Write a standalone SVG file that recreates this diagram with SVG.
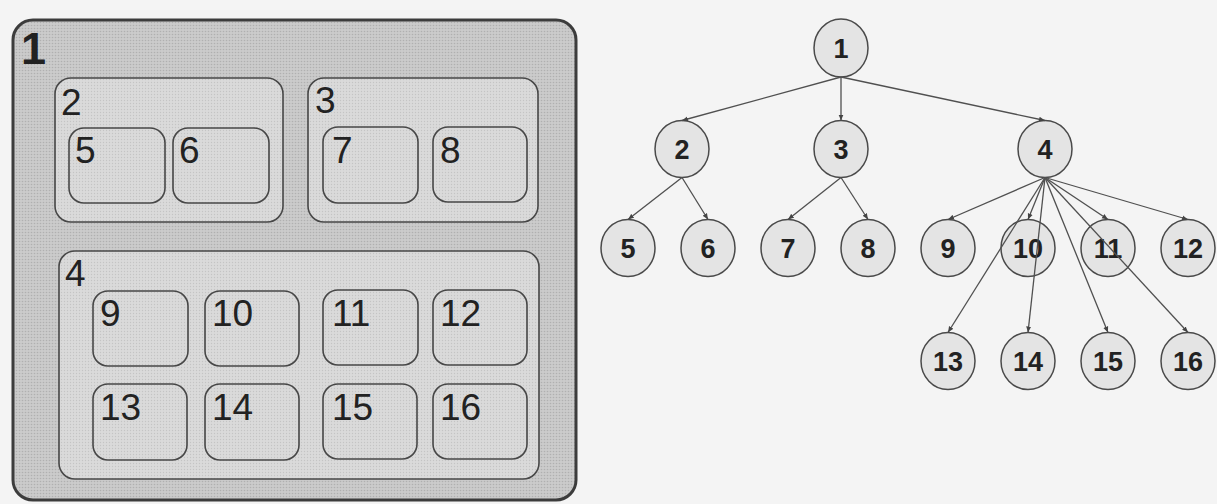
<svg xmlns="http://www.w3.org/2000/svg" width="1217" height="504" viewBox="0 0 1217 504">
<defs>
<pattern id="dots" width="3" height="3" patternUnits="userSpaceOnUse">
<rect width="3" height="3" fill="#cbcbcb"/>
<circle cx="1.5" cy="1.5" r="0.8" fill="#b0b0b0"/>
</pattern>
<pattern id="dotsLight" width="3" height="3" patternUnits="userSpaceOnUse">
<rect width="3" height="3" fill="#dadada"/>
<circle cx="1.5" cy="1.5" r="0.7" fill="#c4c4c4"/>
</pattern>
<marker id="arr" viewBox="0 0 6 6" refX="6" refY="3" markerWidth="6" markerHeight="6" markerUnits="userSpaceOnUse" orient="auto">
<path d="M0,0.5 L6,3 L0,5.5 z" fill="#444"/>
</marker>
</defs>
<style>
.outer{fill:url(#dots);stroke:#3c3c3c;stroke-width:3}
.box{fill:url(#dotsLight);stroke:#474747;stroke-width:1.6}
.sub{fill:none;stroke:#474747;stroke-width:1.6}
.lt{font-family:"Liberation Sans",Arial,sans-serif;font-size:37px;fill:#222}
.lbig{font-family:"Liberation Sans",Arial,sans-serif;font-size:45px;font-weight:bold;fill:#222}
.tn{fill:#e4e4e4;stroke:#4a4a4a;stroke-width:1.5}
.tt{font-family:"Liberation Sans",Arial,sans-serif;font-size:27px;font-weight:bold;fill:#222;text-anchor:middle}
.edge{stroke:#505050;stroke-width:1.3;fill:none;marker-end:url(#arr)}
</style>
<rect width="1217" height="504" fill="#f4f4f4"/>

<!-- Left nested-box panel -->
<g id="box1">
<rect class="outer" x="13" y="20" width="563" height="480" rx="20"/>
<text class="lbig" x="21" y="64">1</text>
</g>
<g id="box2">
<rect class="box" x="55" y="78" width="228" height="144" rx="16"/>
<text class="lt" x="61" y="115">2</text>
</g>
<g id="box5">
<rect class="sub" x="69" y="128" width="96" height="75" rx="15"/>
<text class="lt" x="75" y="163">5</text>
</g>
<g id="box6">
<rect class="sub" x="173" y="128" width="96" height="75" rx="15"/>
<text class="lt" x="179" y="163">6</text>
</g>
<g id="box3">
<rect class="box" x="308" y="78" width="230" height="144" rx="16"/>
<text class="lt" x="315" y="113">3</text>
</g>
<g id="box7">
<rect class="sub" x="323" y="127" width="95" height="76" rx="15"/>
<text class="lt" x="332" y="163">7</text>
</g>
<g id="box8">
<rect class="sub" x="433" y="127" width="94" height="75" rx="15"/>
<text class="lt" x="440" y="163">8</text>
</g>
<g id="box4">
<rect class="box" x="59" y="251" width="480" height="228" rx="16"/>
<text class="lt" x="65" y="286">4</text>
</g>
<g id="box9">
<rect class="sub" x="93" y="291" width="95" height="75" rx="15"/>
<text class="lt" x="100" y="326">9</text>
</g>
<g id="box10">
<rect class="sub" x="205" y="291" width="94" height="75" rx="15"/>
<text class="lt" x="212" y="326">10</text>
</g>
<g id="box11">
<rect class="sub" x="323" y="290" width="95" height="75" rx="15"/>
<text class="lt" x="332" y="326">11</text>
</g>
<g id="box12">
<rect class="sub" x="433" y="290" width="94" height="75" rx="15"/>
<text class="lt" x="440" y="326">12</text>
</g>
<g id="box13">
<rect class="sub" x="93" y="384" width="94" height="76" rx="15"/>
<text class="lt" x="100" y="420">13</text>
</g>
<g id="box14">
<rect class="sub" x="205" y="384" width="94" height="76" rx="15"/>
<text class="lt" x="212" y="420">14</text>
</g>
<g id="box15">
<rect class="sub" x="323" y="384" width="94" height="75" rx="15"/>
<text class="lt" x="332" y="420">15</text>
</g>
<g id="box16">
<rect class="sub" x="433" y="384" width="94" height="75" rx="15"/>
<text class="lt" x="440" y="420">16</text>
</g>

<!-- Right tree -->
<g id="n1"><ellipse class="tn" cx="841" cy="48" rx="27" ry="29"/><text class="tt" x="841" y="58">1</text></g>
<g id="n2"><ellipse class="tn" cx="682" cy="149" rx="27" ry="28.5"/><text class="tt" x="682" y="159">2</text></g>
<g id="n3"><ellipse class="tn" cx="841" cy="149" rx="27" ry="28.5"/><text class="tt" x="841" y="159">3</text></g>
<g id="n4"><ellipse class="tn" cx="1045" cy="149" rx="27" ry="28.5"/><text class="tt" x="1045" y="159">4</text></g>
<g id="n5"><ellipse class="tn" cx="628" cy="248" rx="27" ry="28.5"/><text class="tt" x="628" y="258">5</text></g>
<g id="n6"><ellipse class="tn" cx="708" cy="248" rx="27" ry="28.5"/><text class="tt" x="708" y="258">6</text></g>
<g id="n7"><ellipse class="tn" cx="788" cy="248" rx="27" ry="28.5"/><text class="tt" x="788" y="258">7</text></g>
<g id="n8"><ellipse class="tn" cx="868" cy="248" rx="27" ry="28.5"/><text class="tt" x="868" y="258">8</text></g>
<g id="n9"><ellipse class="tn" cx="948" cy="248" rx="27" ry="28.5"/><text class="tt" x="948" y="258">9</text></g>
<g id="n10"><ellipse class="tn" cx="1028" cy="248" rx="27" ry="28.5"/><text class="tt" x="1028" y="258">10</text></g>
<g id="n11"><ellipse class="tn" cx="1108" cy="248" rx="27" ry="28.5"/><text class="tt" x="1108" y="258">11</text></g>
<g id="n12"><ellipse class="tn" cx="1188" cy="248" rx="27" ry="28.5"/><text class="tt" x="1188" y="258">12</text></g>
<g id="n13"><ellipse class="tn" cx="948" cy="361" rx="27" ry="28.5"/><text class="tt" x="948" y="371">13</text></g>
<g id="n14"><ellipse class="tn" cx="1028" cy="361" rx="27" ry="28.5"/><text class="tt" x="1028" y="371">14</text></g>
<g id="n15"><ellipse class="tn" cx="1108" cy="361" rx="27" ry="28.5"/><text class="tt" x="1108" y="371">15</text></g>
<g id="n16"><ellipse class="tn" cx="1188" cy="361" rx="27" ry="28.5"/><text class="tt" x="1188" y="371">16</text></g>

<g id="connectors">
<line class="edge" x1="841" y1="77" x2="682" y2="120.5"/>
<line class="edge" x1="841" y1="77" x2="841" y2="120.5"/>
<line class="edge" x1="841" y1="77" x2="1045" y2="120.5"/>
<line class="edge" x1="682" y1="177.5" x2="628" y2="219.5"/>
<line class="edge" x1="682" y1="177.5" x2="708" y2="219.5"/>
<line class="edge" x1="841" y1="177.5" x2="788" y2="219.5"/>
<line class="edge" x1="841" y1="177.5" x2="868" y2="219.5"/>
<line class="edge" x1="1045" y1="177.5" x2="948" y2="219.5"/>
<line class="edge" x1="1045" y1="177.5" x2="1028" y2="219.5"/>
<line class="edge" x1="1045" y1="177.5" x2="1108" y2="219.5"/>
<line class="edge" x1="1045" y1="177.5" x2="1188" y2="219.5"/>
<line class="edge" x1="1045" y1="177.5" x2="948" y2="332.5"/>
<line class="edge" x1="1045" y1="177.5" x2="1028" y2="332.5"/>
<line class="edge" x1="1045" y1="177.5" x2="1108" y2="332.5"/>
<line class="edge" x1="1045" y1="177.5" x2="1188" y2="332.5"/>
</g>
</svg>
